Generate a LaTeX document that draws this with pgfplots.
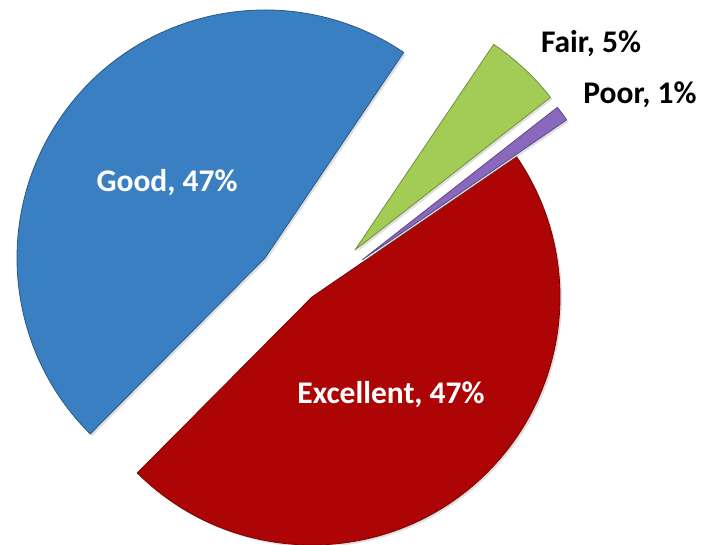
\documentclass[border=0pt]{standalone}
\usepackage{pgfplots}
\pgfplotsset{compat=1.18}
\usepackage{pgfplotstable}
\usetikzlibrary{shadows}
\usepackage{fontspec}
\setmainfont{Carlito}

\definecolor{cgood}{HTML}{3A7FC2}
\definecolor{cexc}{HTML}{AD0505}
\definecolor{cpoor}{HTML}{8A68BE}
\definecolor{cfair}{HTML}{A2CC55}

\newcommand\labelfont{\fontsize{31.5}{36}\selectfont\bfseries}

% slice centres (exploded) and label positions, in pixel-like units
\pgfplotstableread{
label     value cx  cy  lx  ly  col   tcol
Good      47    265 286 167 361 cgood white
Excellent 47    312 247 391 149 cexc  white
Poor      1     362 284 640 449 cpoor black
Fair      5     355 294 591 500 cfair black
}\piedata

\begin{document}
\begin{tikzpicture}
\begin{axis}[
    name=ax,
    x=1pt, y=1pt,
    xmin=0, xmax=701, ymin=0, ymax=544,
    hide axis,
    clip=false,
]
\def\startang{56}
\def\rad{248}
\pgfplotsforeachungrouped \i in {0,...,3}{
    \pgfplotstablegetelem{\i}{value}\of\piedata \let\v\pgfplotsretval
    \pgfplotstablegetelem{\i}{cx}\of\piedata \let\cx\pgfplotsretval
    \pgfplotstablegetelem{\i}{cy}\of\piedata \let\cy\pgfplotsretval
    \pgfplotstablegetelem{\i}{col}\of\piedata \let\col\pgfplotsretval
    \pgfmathsetmacro\endang{\startang+3.6*\v}
    \pgfmathsetmacro\sx{\cx+\rad*cos(\startang)}
    \pgfmathsetmacro\sy{\cy+\rad*sin(\startang)}
    \edef\temp{\noexpand\fill[\col, draw=\col!70!black, line width=0.8pt, line join=round,
        drop shadow={opacity=0.25, shadow xshift=2pt, shadow yshift=-2pt}]
        (axis cs:\cx,\cy) -- (axis cs:\sx,\sy)
        arc[start angle=\startang, end angle=\endang, radius=\rad] -- cycle;}
    \temp
    \let\startang\endang
}
\pgfplotsforeachungrouped \i in {0,...,3}{
    \pgfplotstablegetelem{\i}{label}\of\piedata \let\lab\pgfplotsretval
    \pgfplotstablegetelem{\i}{value}\of\piedata \let\v\pgfplotsretval
    \pgfplotstablegetelem{\i}{lx}\of\piedata \let\lx\pgfplotsretval
    \pgfplotstablegetelem{\i}{ly}\of\piedata \let\ly\pgfplotsretval
    \pgfplotstablegetelem{\i}{tcol}\of\piedata \let\tcol\pgfplotsretval
    \edef\temp{\noexpand\node[text=\tcol, font=\noexpand\labelfont, inner sep=0pt]
        at (axis cs:\lx,\ly) {\lab, \v\noexpand\%};}
    \temp
}
\end{axis}
\pgfresetboundingbox
\useasboundingbox (ax.south west) rectangle (ax.north east);
\end{tikzpicture}
\end{document}
